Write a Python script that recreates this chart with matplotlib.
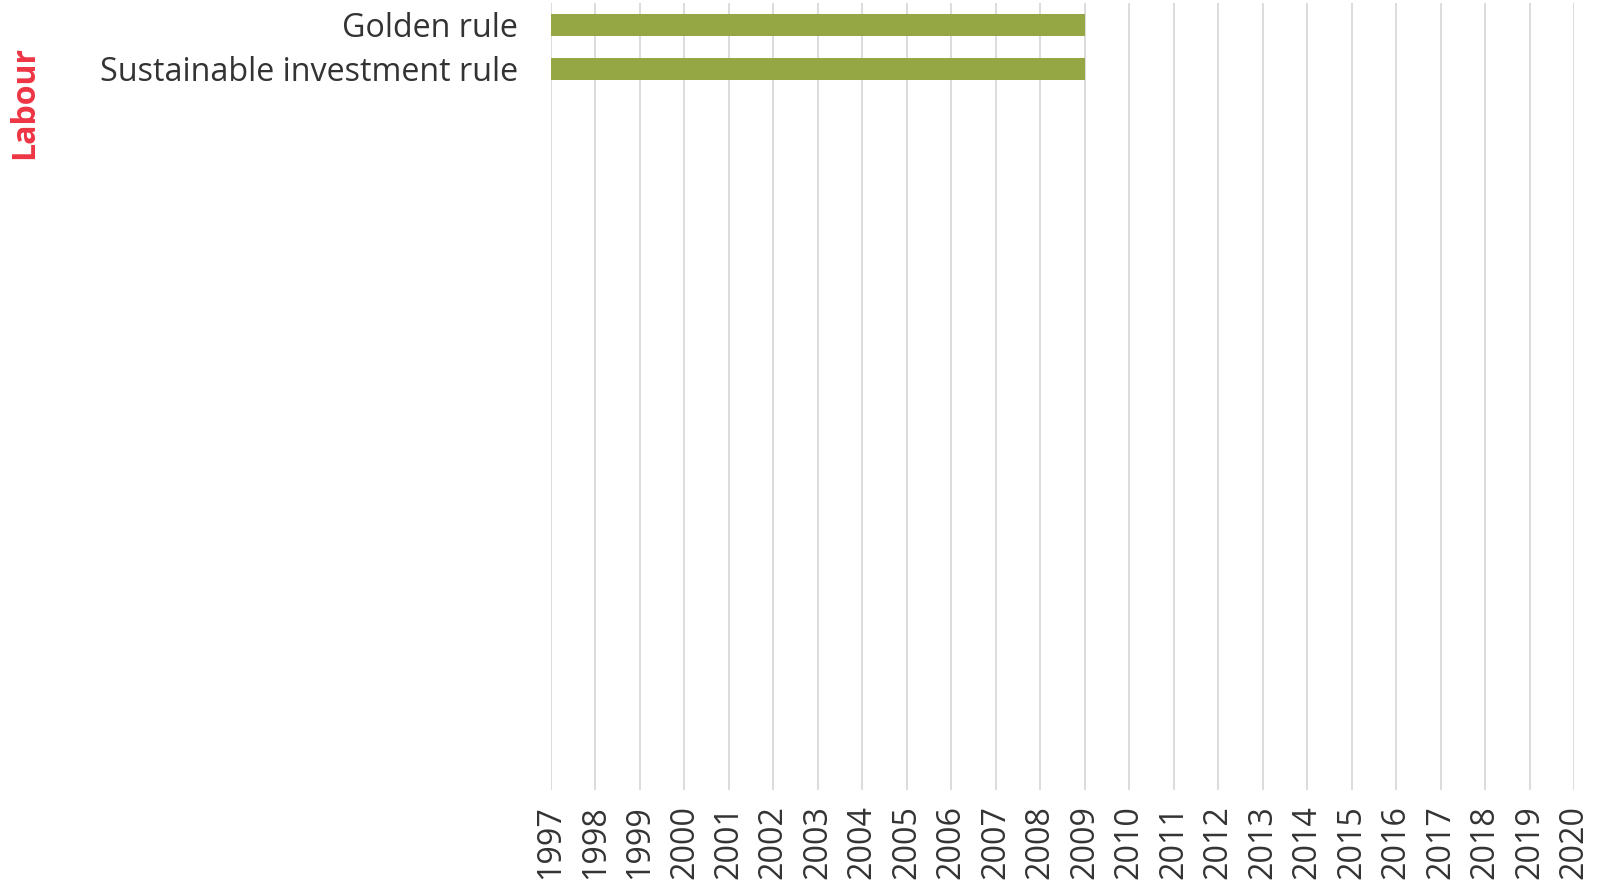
import matplotlib
matplotlib.use("Agg")
import matplotlib.pyplot as plt

# Datos
reglas = ["Golden rule", "Sustainable investment rule"]
inicio = [1997, 1997]
fin = [2009, 2009]
anios = list(range(1997, 2021))
partido = "Labour"
n_filas = 18  # filas del panel (solo las dos primeras tienen reglas)

verde = "#95A644"
rojo = "#EE3544"
gris = "#333333"

plt.rcParams["font.family"] = ["Open Sans", "DejaVu Sans"]

fig = plt.figure(figsize=(16.04, 8.86), dpi=100)
ax = fig.add_axes([0.3435, 0.1084, 0.6378, 0.8882])

duracion = [f - i for i, f in zip(inicio, fin)]
ax.barh(range(len(reglas)), duracion, left=inicio, height=0.5, color=verde, zorder=3)

ax.set_xlim(anios[0], anios[-1])
ax.set_ylim(n_filas - 0.5, -0.5)
ax.set_xticks(anios)
ax.set_xticklabels([str(a) for a in anios], rotation=90, fontsize=23.2, color=gris)
ax.set_yticks(range(len(reglas)))
ax.set_yticklabels(reglas, fontsize=23.2, color=gris)
ax.tick_params(axis="x", length=0, pad=11)
ax.tick_params(axis="y", length=0, pad=24)
ax.grid(axis="x", color="#d9d9d9", linewidth=1.3, zorder=0)
ax.grid(axis="y", visible=False)
for s in ax.spines.values():
    s.set_visible(False)

fig.text(0.0156, 0.884, partido, rotation=90, color=rojo, fontsize=23,
         fontweight="bold", ha="center", va="center")

fig.savefig("out.png", dpi=100)
